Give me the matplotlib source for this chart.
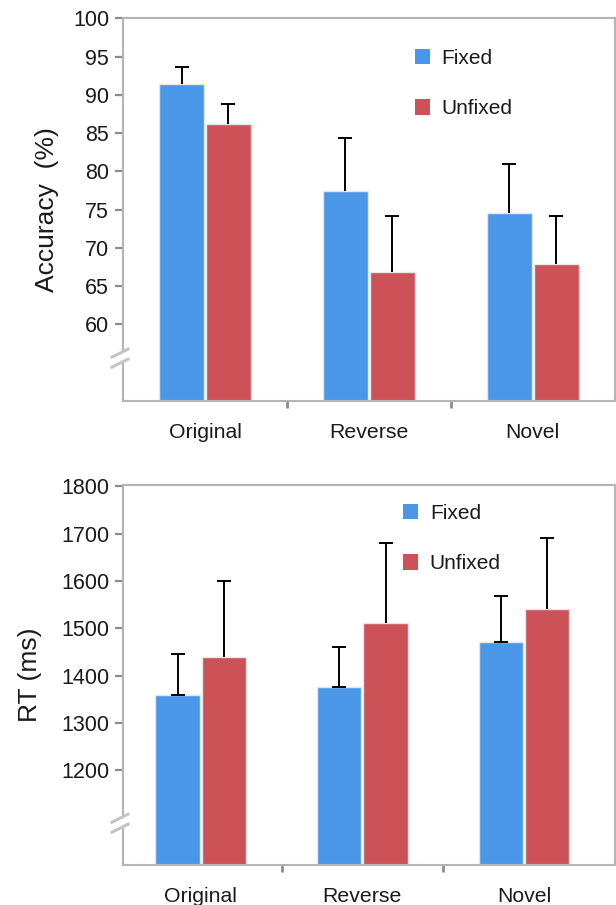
import numpy as np
import matplotlib
matplotlib.use('Agg')
import matplotlib.pyplot as plt
from matplotlib.patches import Patch

plt.rcParams['font.family'] = ['Liberation Sans', 'DejaVu Sans']

# data
categories = ['Original', 'Reverse', 'Novel']
series = ['Fixed', 'Unfixed']

acc_fixed = [91.4, 77.5, 74.5]
acc_fixed_err = [2.2, 6.8, 6.4]
acc_unfixed = [86.2, 66.8, 67.9]
acc_unfixed_err = [2.6, 7.4, 6.3]

rt_fixed = [1360, 1377, 1472]
rt_fixed_err = [85, 84, 96]
rt_unfixed = [1440, 1511, 1541]
rt_unfixed_err = [160, 170, 150]

acc_ticks = [60, 65, 70, 75, 80, 85, 90, 95, 100]
rt_ticks = [1200, 1300, 1400, 1500, 1600, 1700, 1800]

BLUE = '#4a97ea'
RED = '#cc5258'
SPINE = '#b4b4b4'
TICK = '#8c8c8c'

fig = plt.figure(figsize=(6.16, 9.05), dpi=100)
ax1 = fig.add_axes([0.1997, 0.5569, 0.7983, 0.4229])
ax2 = fig.add_axes([0.1997, 0.0442, 0.7983, 0.4199])


def draw_bars(ax, fixed, fixed_err, unfixed, unfixed_err, lower_cap_fixed):
    x = np.arange(len(categories))
    w = 0.274
    off = 0.143
    ax.bar(x - off, fixed, w, color=BLUE, edgecolor='#e6e6e6', linewidth=1, zorder=2)
    ax.bar(x + off, unfixed, w, color=RED, edgecolor='#e6e6e6', linewidth=1, zorder=2)
    for xs, vals, errs, keep_low in [(x - off, fixed, fixed_err, lower_cap_fixed),
                                      (x + off, unfixed, unfixed_err, False)]:
        eb = ax.errorbar(xs, vals, yerr=[np.zeros(len(errs)), errs], fmt='none',
                         ecolor='black', elinewidth=1.4, capsize=5, capthick=1.4, zorder=3)
        if not keep_low:
            eb[1][0].set_visible(False)


def style_axis(ax, ylim, xlim, ticks):
    ax.set_ylim(*ylim)
    ax.set_xlim(*xlim)
    ax.set_yticks(ticks)
    ax.tick_params(axis='y', direction='out', length=6, width=1.6, color=TICK,
                   labelsize=15.5, pad=4, labelcolor='#1a1a1a')
    ax.set_xticks(range(len(categories)))
    ax.set_xticklabels(categories)
    ax.tick_params(axis='x', which='major', length=0, labelsize=15.3, pad=15.5,
                   labelcolor='#1a1a1a')
    ax.set_xticks([0.5, 1.5], minor=True)
    ax.tick_params(axis='x', which='minor', direction='out', length=5, width=2,
                   color=TICK)
    for s in ax.spines.values():
        s.set_color(SPINE)
        s.set_linewidth(1.5)
    ax.spines['left'].set_visible(False)


def axis_break(ax, yc):
    # left spine with a gap and two slanted marks
    bb = ax.get_window_extent()
    px = 1.0 / bb.height
    pw = 1.0 / bb.width
    gap = 5 * px
    kw = dict(transform=ax.transAxes, clip_on=False, color=SPINE, lw=1.5,
              solid_capstyle='butt')
    ax.plot([0, 0], [0, yc - gap], **kw)
    ax.plot([0, 0], [yc + gap, 1], **kw)
    mk = dict(transform=ax.transAxes, clip_on=False, color='#c4c4c4', lw=2.2)
    for d in (-5, 5):
        ax.plot([-11 * pw, 5 * pw], [yc + (d - 4) * px, yc + (d + 4) * px], **mk)


draw_bars(ax1, acc_fixed, acc_fixed_err, acc_unfixed, acc_unfixed_err, False)
style_axis(ax1, (50, 100), (-0.5, 2.5), acc_ticks)
ax1.set_ylabel('Accuracy  (%)', fontsize=19, va='center', color='#1a1a1a')
ax1.yaxis.set_label_coords(-0.155, 0.5)
axis_break(ax1, 0.112)

draw_bars(ax2, rt_fixed, rt_fixed_err, rt_unfixed, rt_unfixed_err, True)
style_axis(ax2, (1000, 1803), (-0.48, 2.56), rt_ticks)
ax2.set_ylabel('RT (ms)', fontsize=19, va='center', color='#1a1a1a')
ax2.yaxis.set_label_coords(-0.19, 0.5)
axis_break(ax2, 0.110)

handles = [Patch(facecolor=BLUE), Patch(facecolor=RED)]
for ax, anchor in [(ax1, (0.593, 0.92)), (ax2, (0.570, 0.95))]:
    ax.legend(handles, series, loc='upper left', bbox_to_anchor=anchor,
              frameon=False, fontsize=15, handlelength=0.72, handleheight=0.75,
              handletextpad=0.55, labelspacing=1.5, borderpad=0, borderaxespad=0,
              labelcolor='#1a1a1a')

fig.savefig('out.png', dpi=100)
